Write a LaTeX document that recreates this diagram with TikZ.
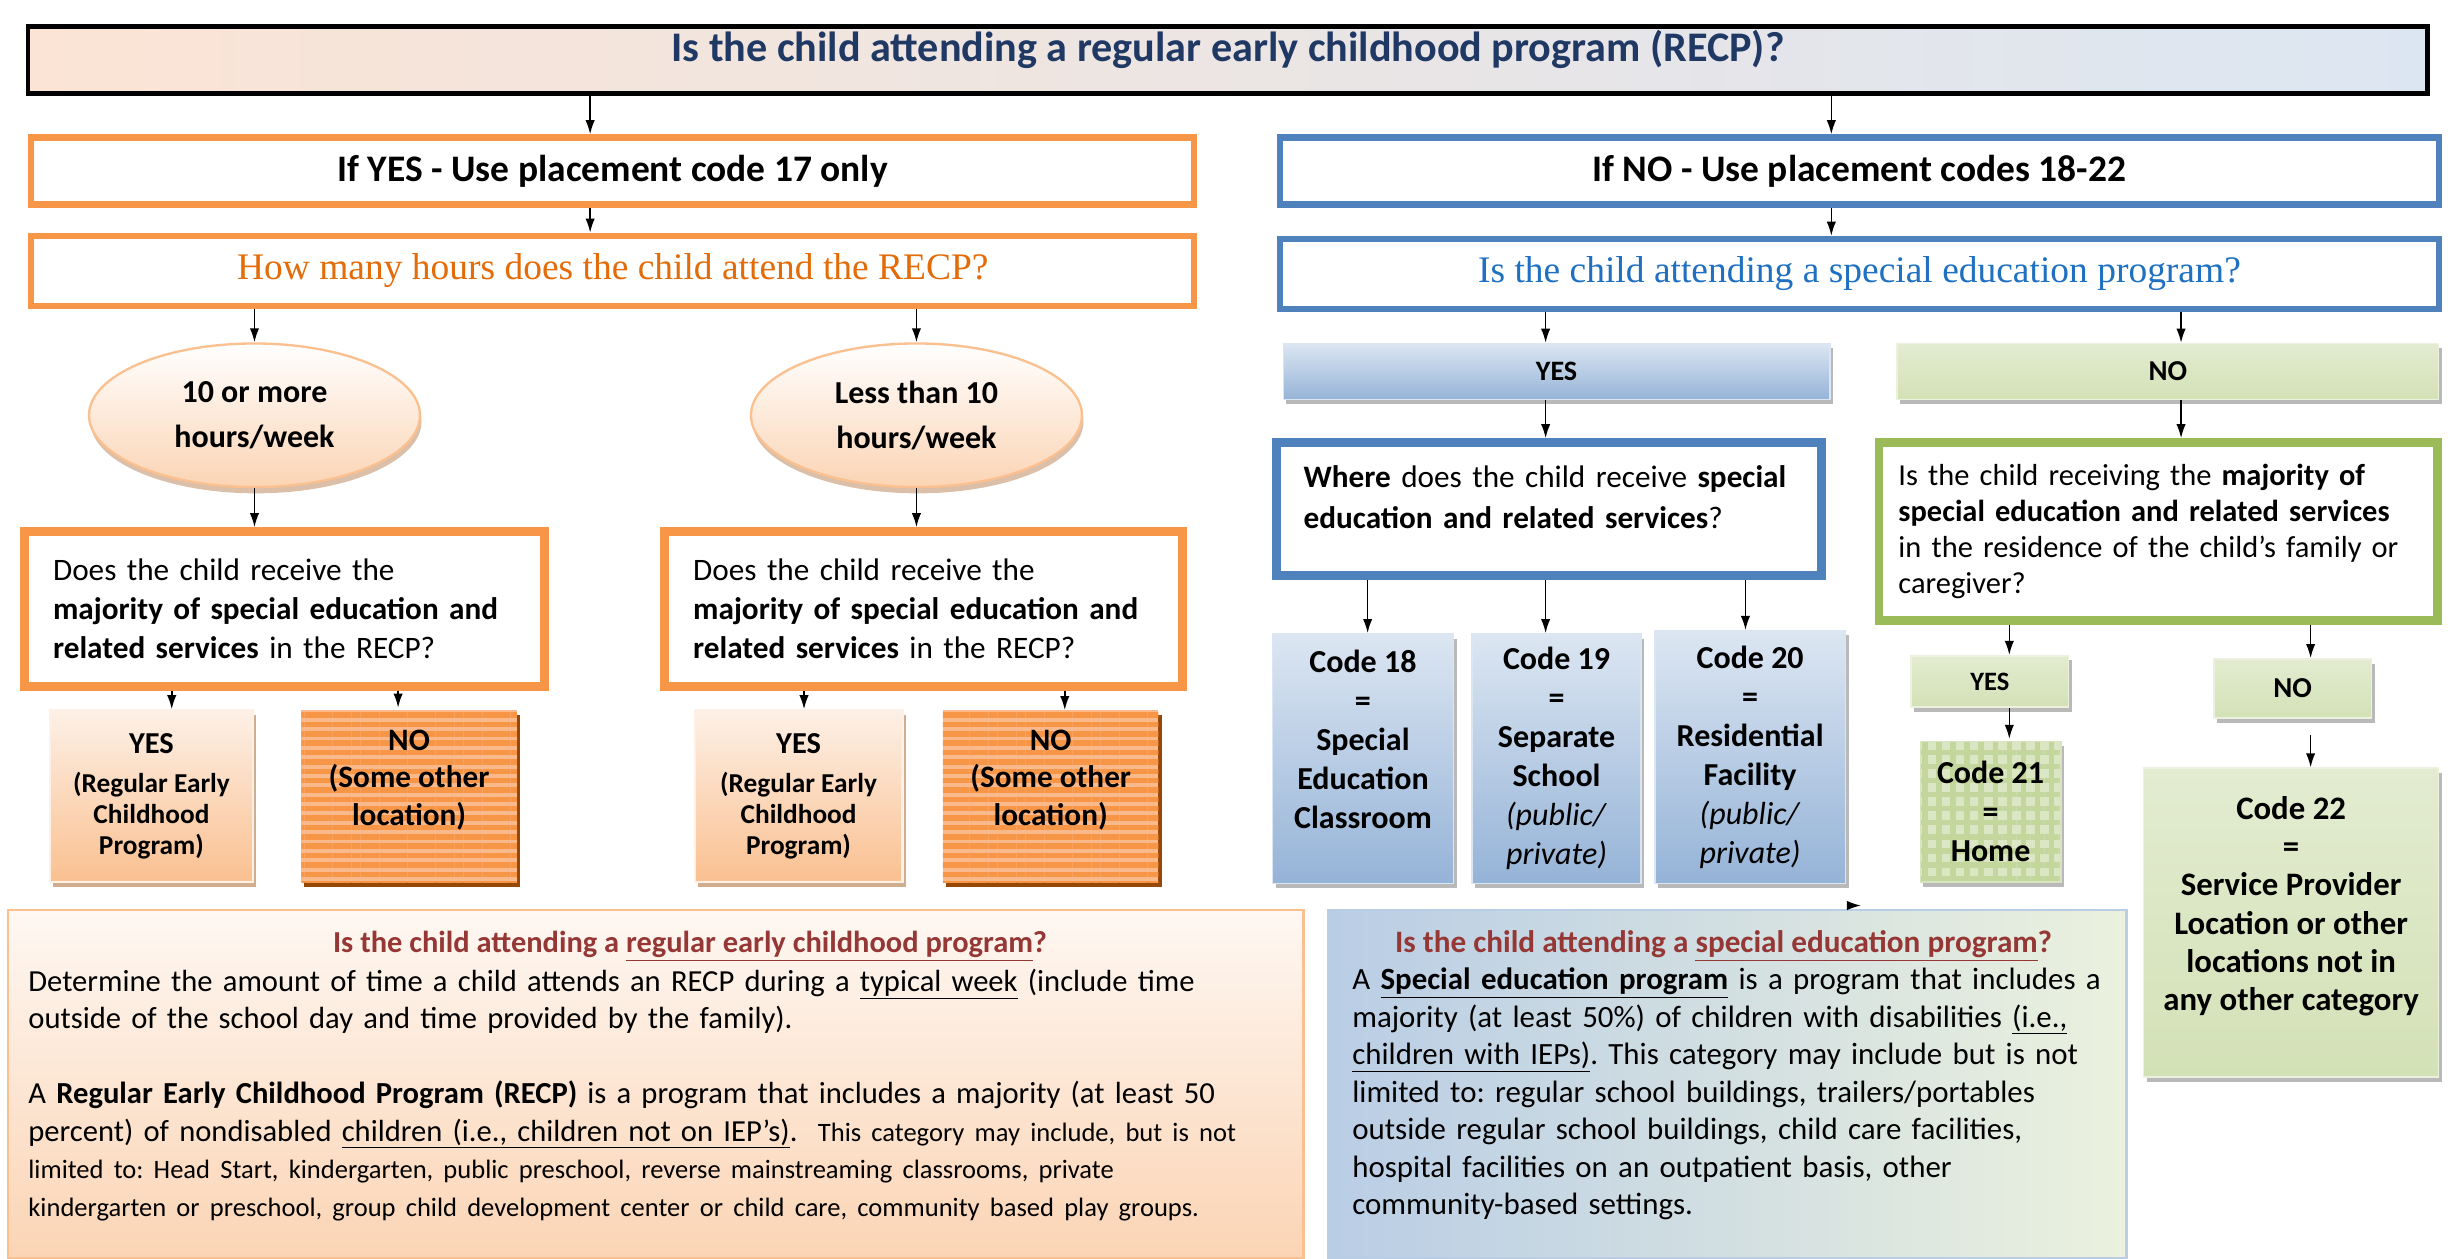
\documentclass[tikz,border=0pt]{standalone}
\usepackage{fontspec}
\setmainfont{Carlito}
\newfontfamily\askfont{Liberation Serif}
\usetikzlibrary{shapes.geometric,shadows,patterns.meta,arrows.meta}
\frenchspacing

\definecolor{navy}{HTML}{1F3864}
\definecolor{peach}{HTML}{FBE4D5}
\definecolor{orangeD}{HTML}{F79646}
\definecolor{orangeM}{HTML}{FAC090}
\definecolor{orangeL}{HTML}{FBD4B4}
\definecolor{orangeP}{HTML}{FDF0E6}
\definecolor{orangeS}{HTML}{FAB98A}
\definecolor{orangeT}{HTML}{E36C09}
\definecolor{brownS}{HTML}{974806}
\definecolor{blueD}{HTML}{4F81BD}
\definecolor{blueM}{HTML}{95B3D7}
\definecolor{blueL}{HTML}{DCE6F2}
\definecolor{blueI}{HTML}{B9CDE5}
\definecolor{blueT}{HTML}{1F70C1}
\definecolor{greenD}{HTML}{9BBB59}
\definecolor{greenM}{HTML}{C3D69B}
\definecolor{greenL}{HTML}{D7E4BD}
\definecolor{greenP}{HTML}{EBF1DE}
\definecolor{redT}{HTML}{953735}
\newcommand\fsz[2]{\fontsize{#1}{#2}\selectfont}

\begin{document}
\begin{tikzpicture}[x=1pt, y=-1pt, >={Latex[length=9pt,width=6pt]},
    every node/.style={inner sep=0pt, align=center},
    headbar/.style={draw=#1, line width=4pt, fill=white},
    ask/.style={draw=#1, line width=4.7pt, fill=white, align=left, font=\fsz{20}{25}},
    pill/.style={ellipse, draw=orangeM, line width=1.5pt, top color=white, bottom color=orangeL,
      minimum width=212pt, minimum height=92pt, font=\bfseries\fsz{20.5}{29},
      drop shadow={shadow xshift=1pt, shadow yshift=-4pt, fill=brownS, opacity=.35}},
    yesbox/.style={draw=orangeP, line width=1.5pt, top color=orangeP, bottom color=orangeM,
      minimum width=130pt, minimum height=110pt, font=\bfseries\fsz{17.5}{20},
      drop shadow={shadow xshift=2pt, shadow yshift=-3pt, fill=brownS!45, opacity=1}},
    nobox/.style={drop shadow={shadow xshift=2pt, shadow yshift=-3pt, fill=brownS, opacity=1},
      preaction={fill=orangeS}, pattern={Lines[angle=0,distance=6pt,line width=3.5pt]},
      pattern color=orangeD, minimum width=138pt, minimum height=110pt, font=\bfseries\fsz{20}{24}},
    codebox/.style={draw=blueL, line width=1pt, top color=blueL, bottom color=blueM,
      font=\bfseries\fsz{20.5}{25}, minimum height=160pt,
      drop shadow={shadow xshift=2pt, shadow yshift=-3pt, fill=gray!55, opacity=1}},
    greenbox/.style={draw=greenP, line width=1pt, top color=greenP!60!greenL, bottom color=greenL!80!greenM,
      font=\bfseries\fsz{18.5}{25},
      drop shadow={shadow xshift=2pt, shadow yshift=-3pt, fill=gray!55, opacity=1}},
    arr/.style={->, line width=1pt}]
\useasboundingbox (0,0) rectangle (1568,806);

% top question
\node[draw=black, line width=3pt, left color=peach, right color=blueL, minimum width=1537pt,
  minimum height=43pt, text height=17.5pt, text depth=16pt, font=\bfseries\fsz{27}{30}, text=navy] (recp)
  at (786.5,38.5) {Is the child attending a regular early childhood program (RECP)?};

% YES branch
\node[headbar=orangeD, minimum width=745pt, minimum height=43pt, font=\bfseries\fsz{24}{28}] (ifyes)
  at (392.5,109.5) {If YES - Use placement code 17 only};
\node[headbar=orangeD, minimum width=745pt, minimum height=45pt, font=\askfont\fsz{24}{28}, text=orangeT] (hours)
  at (392.5,173.5) {How many hours does the child attend the RECP?};
\node[pill] (ten) at (163,266) {10 or more\\hours/week};
\node[pill] (less) at (587,266) {Less than 10\\hours/week};
\node[ask=orangeD, minimum width=334pt, minimum height=100pt, text width=296pt] (maj1) at (182,390)
  {Does the child receive the\\ \textbf{majority of special education and}\\ \textbf{related services} in the RECP?};
\node[ask=orangeD, minimum width=333pt, minimum height=100pt, text width=295pt] (maj2) at (591.5,390)
  {Does the child receive the\\ \textbf{majority of special education and}\\ \textbf{related services} in the RECP?};
\node[yesbox] (yes1) at (97,510) {{\fsz{19.5}{20}YES}\\[5pt](Regular Early\\Childhood\\Program)};
\node[nobox] (no1) at (262,510) {NO\\(Some other\\location)\\ \mbox{}};
\node[yesbox, minimum width=133pt] (yes2) at (511.5,510) {{\fsz{19.5}{20}YES}\\[5pt](Regular Early\\Childhood\\Program)};
\node[nobox] (no2) at (673,510) {NO\\(Some other\\location)\\ \mbox{}};

% NO branch
\node[headbar=blueD, minimum width=742pt, minimum height=43pt, font=\bfseries\fsz{24}{28}] (ifno)
  at (1191,109.5) {If NO - Use placement codes 18-22};
\node[headbar=blueD, minimum width=742pt, minimum height=45pt, font=\askfont\fsz{24}{28}, text=blueT] (sped)
  at (1191,175.5) {Is the child attending a special education program?};
\node[draw=blueL, line width=1pt, top color=blueL, bottom color=blueM, minimum width=350pt, minimum height=36pt,
  font=\bfseries\fsz{18}{20}, drop shadow={shadow xshift=2pt, shadow yshift=-3pt, fill=gray!55, opacity=1}]
  (syes) at (997,238) {YES};
\node[greenbox, minimum width=347pt, minimum height=36pt] (sno) at (1388.5,238) {NO};
\node[ask=blueD, minimum width=350pt, minimum height=86pt, text width=314pt, text depth=41pt, font=\fsz{20}{26}] (where)
  at (992,326) {\textbf{Where} does the child receive \textbf{special}\\ \textbf{education and related services}?};
\node[ask=greenD, minimum width=359pt, minimum height=115pt, text width=333pt, font=\fsz{19.5}{23}] (home)
  at (1382.5,340.5) {Is the child receiving the \textbf{majority of}\\ \textbf{special education and related services}\\
  in the residence of the child’s family or\\ caregiver?};
\node[codebox, minimum width=116pt] (c18) at (873,486) {Code 18\\=\\Special\\Education\\Classroom\\ \mbox{}};
\node[codebox, minimum width=108pt] (c19) at (997,486)
  {Code 19\\=\\Separate\\School\\ \textit{\mdseries(public/}\\ \textit{\mdseries private)}};
\node[codebox, minimum width=122pt, minimum height=162pt] (c20) at (1121,485)
  {Code 20\\=\\Residential\\Facility\\ \textit{\mdseries(public/}\\ \textit{\mdseries private)}};
\node[greenbox, minimum width=101pt, minimum height=33pt, font=\bfseries\fsz{17}{20}] (ry) at (1274.5,436.5) {YES};
\node[greenbox, minimum width=101pt, minimum height=38pt] (rn) at (1468.5,441) {NO};
\node[draw=greenL, line width=1pt, drop shadow={shadow xshift=2pt, shadow yshift=-3pt, fill=gray!55, opacity=1},
  preaction={fill=greenL!90!white}, pattern={Hatch[angle=0,distance=9pt,line width=3.5pt]}, pattern color=greenM,
  minimum width=90pt, minimum height=90pt, font=\bfseries\fsz{20.5}{25}] (c21) at (1275,520) {Code 21\\=\\Home};
\node[greenbox, minimum width=189pt, minimum height=198pt, font=\bfseries\fsz{21}{24.5}] (c22) at (1467.5,591)
  {Code 22\\=\\Service Provider\\Location or other\\locations not in\\any other category\\ \mbox{}};

% inner frames
\foreach \n/\c in {maj1/orangeD, maj2/orangeD, where/blueD, home/greenD}
  \draw[\c, line width=2pt] ([xshift=4.7pt,yshift=-4.7pt]\n.north west) rectangle ([xshift=-4.7pt,yshift=4.7pt]\n.south east);

% arrows
\draw[arr] (recp.south -| 378,0) -- (ifyes.north -| 378,0);
\draw[arr] (recp.south -| 1173,0) -- (ifno.north -| 1173,0);
\draw[arr] (ifyes.south -| 378,0) -- (hours.north -| 378,0);
\draw[arr] (ifno.south -| 1173,0) -- (sped.north -| 1173,0);
\draw[arr] (hours.south -| ten.north) -- (ten.north);
\draw[arr] (hours.south -| less.north) -- (less.north);
\draw[arr] (ten.south) -- (ten.south |- maj1.north);
\draw[arr] (less.south) -- (less.south |- maj2.north);
\foreach \a/\b/\x in {maj1/yes1/110, maj1/no1/255, maj2/yes2/515, maj2/no2/682, sped/syes/990, sped/sno/1397,
    syes/where/990, sno/home/1397, where/c18/876, where/c19/990, where/c20/1118, home/ry/1287, home/rn/1480, ry/c21/1287}
  \draw[arr] (\a.south -| \x,0) -- (\b.north -| \x,0);
\draw[arr] ([yshift=-10pt]rn.south -| 1480,0) -- (c22.north -| 1480,0);

% notes
\node[draw=orangeM, line width=1.5pt, top color=orangeP!50, bottom color=orangeL, minimum width=830pt,
  minimum height=223pt] (recpinfo) at (420,694.5) {};
\node[font=\bfseries\fsz{19.5}{22}, text=redT] (recphead) at (442,606)
  {Is the child attending a \underline{regular early childhood program}?};
\node[anchor=base west, text width=812pt, align=left, font=\fsz{19.6}{24}] (recptext) at (18,635)
  {Determine the amount of time a child attends an RECP during a \underline{typical week} (include time\\
  outside of the school day and time provided by the family).\\[24pt]
  A \textbf{Regular Early Childhood Program (RECP)} is a program that includes a majority (at least 50\\
  percent) of nondisabled \underline{children (i.e., children not on IEP’s)}.~ {\fsz{17}{24}This category may include, but is not\\
  limited to: Head Start, kindergarten, public preschool, reverse mainstreaming classrooms, private\\
  kindergarten or preschool, group child development center or child care, community based play groups.}};

\node[draw=blueI, line width=1.5pt, left color=blueI, right color=greenP, minimum width=511pt,
  minimum height=223pt] (spedinfo) at (1106.5,694.5) {};
\node[font=\bfseries\fsz{20}{22}, text=redT] (spedhead) at (1104,606)
  {Is the child attending a \underline{special education program}?};
\node[anchor=base west, text width=492pt, align=left, font=\fsz{19.8}{24}] (spedtext) at (866,634)
  {A \textbf{\underline{Special education program}} is a program that includes a\\
  majority (at least 50\%) of children with disabilities \underline{(i.e.,}\\
  \underline{children with IEPs)}. This category may include but is not\\
  limited to: regular school buildings, trailers/portables\\
  outside regular school buildings, child care facilities,\\
  hospital facilities on an outpatient basis, other\\
  community-based settings.};
\coordinate (stray) at (1185,580);
\draw[arr] (stray) -- ++(7,0);
\end{tikzpicture}
\end{document}
